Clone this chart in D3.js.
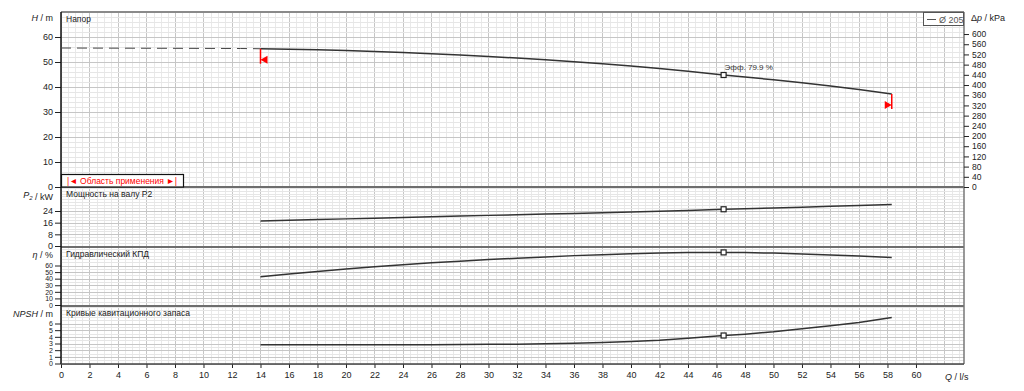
<!DOCTYPE html>
<html>
<head>
<meta charset="utf-8">
<script src="https://cdn.jsdelivr.net/npm/d3@7"></script>
<style>
  body { margin: 0; background: #fff; }
  svg { display: block; font-family: "Liberation Sans", Arial, sans-serif; }
</style>
</head>
<body>
<script>
// ---- data ----
const flow       = [14, 16, 18, 20, 22, 24, 26, 28, 30, 32, 34, 36, 38, 40, 42, 44, 46.5, 48, 50, 52, 54, 56, 58.3];
const head       = [55.3, 55.1, 54.9, 54.6, 54.2, 53.8, 53.3, 52.8, 52.2, 51.6, 50.9, 50.1, 49.3, 48.4, 47.4, 46.3, 44.8, 44.0, 42.9, 41.7, 40.4, 39.0, 37.2];
const power      = [17.1, 17.6, 18.1, 18.6, 19.1, 19.6, 20.0, 20.5, 21.0, 21.4, 21.9, 22.3, 22.8, 23.3, 23.8, 24.4, 25.2, 25.6, 26.1, 26.6, 27.2, 27.8, 28.5];
const efficiency = [43, 47, 51, 54.5, 58, 61, 64, 66.5, 69, 71, 73, 75, 76.5, 78, 79, 79.6, 79.9, 79.6, 78.8, 77.5, 76, 74.3, 72];
const npsh       = [2.8, 2.8, 2.8, 2.8, 2.8, 2.8, 2.8, 2.85, 2.9, 2.9, 2.95, 3.05, 3.15, 3.3, 3.5, 3.8, 4.2, 4.4, 4.75, 5.2, 5.65, 6.15, 6.9];

const dashedFlow = [0, 12.6, 14];
const dashedHead = [55.6, 55.4, 55.3];

const bepFlow = 46.5;
const bepText = "Эфф.  79.9 %";
const legendText = "Ø 205";
const rangeText = "|◄ Область применения ►|";

// tick labels
const flowTicks  = [0, 2, 4, 6, 8, 10, 12, 14, 16, 18, 20, 22, 24, 26, 28, 30, 32, 34, 36, 38, 40, 42, 44, 46, 48, 50, 52, 54, 56, 58, 60];
const headTicks  = [0, 10, 20, 30, 40, 50, 60];
const kpaTicks   = [0, 40, 80, 120, 160, 200, 240, 280, 320, 360, 400, 440, 480, 520, 560, 600];
const powerTicks = [0, 8, 16, 24];
const effTicks   = [0, 10, 20, 30, 40, 50, 60];
const npshTicks  = [0, 1, 2, 3, 4, 5, 6];

// ---- layout ----
const W = 1024, H = 391;
const plotLeft = 61, plotRight = 964, plotTop = 12, plotBottom = 364;

const svg = d3.select('body').append('svg')
  .attr('width', W).attr('height', H);
svg.append('rect').attr('width', W).attr('height', H).attr('fill', '#fff');

const x = d3.scaleLinear().domain([0, 63.37]).range([plotLeft, plotRight]);

const panels = [
  { top: 12,  bottom: 187, y: d3.scaleLinear().domain([0, 70]).range([187, 12]),
    ticks: headTicks, minor: 2, values: head, title: 'Напор', fs: 9 },
  { top: 187, bottom: 247, y: d3.scaleLinear().domain([0, 24]).range([246, 211]),
    ticks: powerTicks, minor: 2, values: power, title: 'Мощность на валу  P2', fs: 9 },
  { top: 247, bottom: 306, y: d3.scaleLinear().domain([0, 60]).range([305, 265.5]),
    ticks: effTicks, minor: 5, values: efficiency, title: 'Гидравлический КПД', fs: 7 },
  { top: 306, bottom: 364, y: d3.scaleLinear().domain([0, 6]).range([363.5, 323.5]),
    ticks: npshTicks, minor: 0.5, values: npsh, title: 'Кривые кавитационного запаса', fs: 7 }
];

const grid = svg.append('g');

// vertical grid
const qMinor = d3.range(0, 63.4, 0.5);
grid.selectAll('line.vmin').data(qMinor).enter().append('line')
  .attr('x1', d => Math.round(x(d)) + 0.5).attr('x2', d => Math.round(x(d)) + 0.5)
  .attr('y1', plotTop).attr('y2', plotBottom)
  .attr('stroke', d => d % 2 === 0 ? '#c6c6c6' : '#e9e9e9').attr('stroke-width', 1);

// horizontal grid per panel
panels.forEach(p => {
  const maxV = p.y.invert(p.top);
  const minorVals = d3.range(0, maxV, p.minor);
  grid.selectAll(null).data(minorVals).enter().append('line')
    .attr('x1', plotLeft).attr('x2', plotRight)
    .attr('y1', d => Math.round(p.y(d)) + 0.5).attr('y2', d => Math.round(p.y(d)) + 0.5)
    .attr('stroke', d => p.ticks.includes(d) ? '#c6c6c6' : '#e6e6e6')
    .attr('stroke-width', 1);
});

// panel borders
svg.append('line').attr('x1', plotLeft).attr('x2', plotRight).attr('y1', plotTop).attr('y2', plotTop)
  .attr('stroke', '#8a8a8a').attr('stroke-width', 2);
[187, 247, 306].forEach(yy => {
  svg.append('line').attr('x1', plotLeft).attr('x2', plotRight).attr('y1', yy).attr('y2', yy)
    .attr('stroke', '#6e6e6e').attr('stroke-width', 2);
});
svg.append('line').attr('x1', plotRight).attr('x2', plotRight).attr('y1', plotTop).attr('y2', plotBottom)
  .attr('stroke', '#777').attr('stroke-width', 1.5);

// left axes
panels.forEach(p => {
  const maxV = p.y.invert(p.top);
  const g = svg.append('g').attr('transform', `translate(${plotLeft},0)`);
  g.call(d3.axisLeft(p.y).tickValues(d3.range(0, maxV, p.minor)).tickSize(3).tickFormat(''));
  g.call(d3.axisLeft(p.y).tickValues(p.ticks).tickSize(6).tickPadding(2).tickFormat(d3.format('d')));
  g.selectAll('.domain').remove();
  g.selectAll('line').attr('stroke', '#222');
  g.selectAll('text').attr('font-size', p.fs).attr('fill', '#222')
    .attr('font-family', '"Liberation Sans", Arial, sans-serif');
});
svg.append('line').attr('x1', plotLeft).attr('x2', plotLeft).attr('y1', plotTop).attr('y2', plotBottom)
  .attr('stroke', '#111').attr('stroke-width', 1.5);

// right kPa axis
const yKpa = d3.scaleLinear().domain([0, 70 * 9.80665]).range([187, 12]);
const gR = svg.append('g').attr('transform', `translate(${plotRight},0)`);
gR.call(d3.axisRight(yKpa).tickValues(d3.range(0, 680, 10)).tickSize(3).tickFormat(''));
gR.call(d3.axisRight(yKpa).tickValues(kpaTicks).tickSize(5).tickPadding(3).tickFormat(d3.format('d')));
gR.selectAll('.domain').remove();
gR.selectAll('line').attr('stroke', '#222');
gR.selectAll('text').attr('font-size', 8.5).attr('fill', '#222')
  .attr('font-family', '"Liberation Sans", Arial, sans-serif');

// bottom axis
const gB = svg.append('g').attr('transform', `translate(0,${plotBottom})`);
gB.call(d3.axisBottom(x).tickValues(d3.range(0, 63, 0.5)).tickSize(3).tickFormat(''));
gB.call(d3.axisBottom(x).tickValues(flowTicks).tickSize(4).tickPadding(4).tickFormat(d3.format('d')));
gB.selectAll('.domain').remove();
gB.selectAll('line').attr('stroke', '#222');
gB.selectAll('text').attr('font-size', 9).attr('fill', '#222')
  .attr('font-family', '"Liberation Sans", Arial, sans-serif');
svg.append('line').attr('x1', plotLeft).attr('x2', plotRight).attr('y1', plotBottom).attr('y2', plotBottom)
  .attr('stroke', '#444').attr('stroke-width', 1.5);

// axis titles
const lab = svg.append('g').attr('font-size', 9).attr('fill', '#222');
function axisTitle(xx, yy, anchor, parts) {
  const t = lab.append('text').attr('x', xx).attr('y', yy).attr('text-anchor', anchor);
  parts.forEach(([s, it, sub]) => {
    const ts = t.append('tspan').text(s);
    if (it) ts.attr('font-style', 'italic');
    if (sub) ts.attr('font-size', 6).attr('dy', 2);
  });
  return t;
}
axisTitle(53, 21, 'end', [['H', true], [' / m']]);
axisTitle(53, 198, 'end', [['P', true], ['2', true, true], [' / kW', false]]);
axisTitle(53, 258, 'end', [['η', true], [' / %']]);
axisTitle(53, 317, 'end', [['NPSH', true], [' / m']]);
axisTitle(971, 21, 'start', [['Δ'], ['p', true], [' / kPa']]);
axisTitle(945, 380, 'start', [['Q', true], [' / l/s']]);

// panel titles
panels.forEach(p => {
  svg.append('text').attr('x', 66).attr('y', p.top + 10)
    .attr('font-size', 8.5).attr('fill', '#222').text(p.title);
});

// dashed extension of the head curve
svg.append('path')
  .attr('d', d3.line().x(d => x(d[0])).y(d => panels[0].y(d[1]))(dashedFlow.map((q, i) => [q, dashedHead[i]])))
  .attr('fill', 'none').attr('stroke', '#444').attr('stroke-width', 1)
  .attr('stroke-dasharray', '10,6');

// curves
const bepIndex = flow.indexOf(bepFlow);
panels.forEach(p => {
  const pts = flow.map((q, i) => [q, p.values[i]]);
  svg.append('path')
    .attr('d', d3.line().x(d => x(d[0])).y(d => p.y(d[1]))(pts))
    .attr('fill', 'none').attr('stroke', '#333').attr('stroke-width', 1.5);
  svg.append('rect')
    .attr('x', x(bepFlow) - 2.5).attr('y', p.y(p.values[bepIndex]) - 2.5)
    .attr('width', 5).attr('height', 5)
    .attr('fill', '#fff').attr('stroke', '#222').attr('stroke-width', 1.2);
});

// BEP label
svg.append('text').attr('x', x(bepFlow) + 1).attr('y', panels[0].y(head[bepIndex]) - 5)
  .attr('font-size', 8).attr('fill', '#333').text(bepText);

// application range markers
const red = '#ff0000';
const firstX = x(flow[0]), firstY = panels[0].y(head[0]);
const lastX = x(flow[flow.length - 1]), lastY = panels[0].y(head[head.length - 1]);
svg.append('line').attr('x1', firstX).attr('x2', firstX).attr('y1', firstY).attr('y2', firstY + 15)
  .attr('stroke', red).attr('stroke-width', 1.5);
svg.append('path')
  .attr('d', `M${firstX},${firstY + 11} L${firstX + 7},${firstY + 7} L${firstX + 7},${firstY + 15} Z`)
  .attr('fill', red);
svg.append('line').attr('x1', lastX).attr('x2', lastX).attr('y1', lastY).attr('y2', lastY + 15)
  .attr('stroke', red).attr('stroke-width', 1.5);
svg.append('path')
  .attr('d', `M${lastX},${lastY + 11} L${lastX - 7},${lastY + 7} L${lastX - 7},${lastY + 15} Z`)
  .attr('fill', red);

// application range box
svg.append('rect').attr('x', plotLeft + 0.5).attr('y', 174.5).attr('width', 122).attr('height', 12.5)
  .attr('fill', '#fff').attr('stroke', '#111').attr('stroke-width', 1.2);
svg.append('text').attr('x', plotLeft + 61).attr('y', 184.3).attr('text-anchor', 'middle')
  .attr('font-size', 8.5).attr('fill', red).text(rangeText);

// legend
svg.append('rect').attr('x', 923.5).attr('y', 12.5).attr('width', 40).attr('height', 13)
  .attr('fill', '#fff').attr('stroke', '#555').attr('stroke-width', 1);
svg.append('line').attr('x1', 927).attr('x2', 936).attr('y1', 19.5).attr('y2', 19.5)
  .attr('stroke', '#555').attr('stroke-width', 1);
svg.append('text').attr('x', 939).attr('y', 22.5).attr('font-size', 9).attr('fill', '#555').text(legendText);
</script>
</body>
</html>
